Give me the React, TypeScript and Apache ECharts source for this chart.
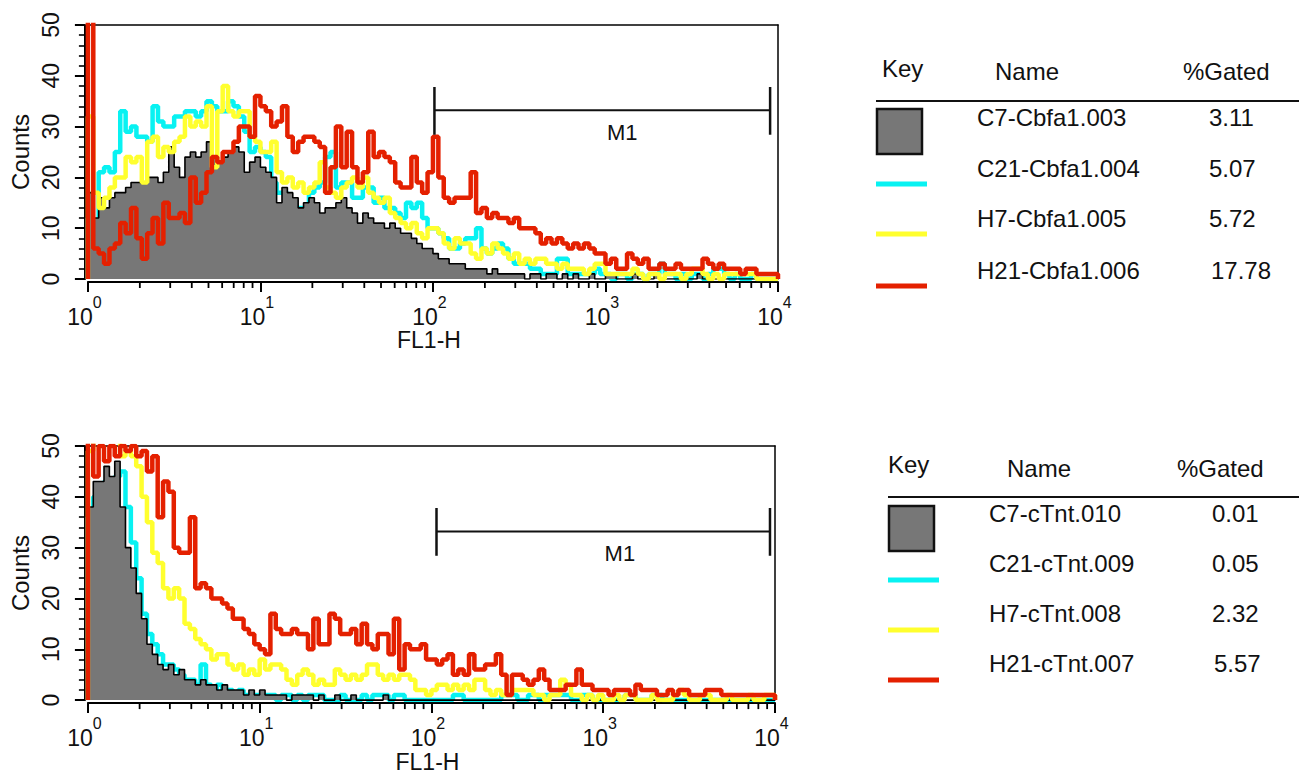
import React, { useEffect, useRef } from "react";
import * as echarts from "echarts";

const FONT = "'Liberation Sans', Arial, Helvetica, sans-serif";

// 128 log-spaced channels from 10^0 to 10^4 (each = 2 of the 256 display channels)
// ---- Cbfa1 panel ----
const cbfaC7 = [
  17, 12, 16, 14, 16, 17, 17, 18, 19, 19, 19, 20, 20, 19, 21, 26,
  22, 20, 24, 25, 24, 25, 27, 24, 23, 24, 25, 26, 25, 21, 23, 24,
  22, 21, 20, 15, 18, 17, 16, 14, 15, 16, 15, 13, 14, 14, 15, 16,
  14, 13, 11, 13, 12, 11, 11, 10, 11, 10, 9, 9, 8, 7, 6, 6,
  5, 4, 4, 3, 3, 3, 2, 2, 2, 2, 1, 2, 1, 1, 1, 1,
  1, 0, 1, 1, 0, 1, 1, 0, 1, 0, 1, 0, 0, 1, 0, 0,
  1, 1, 0, 0, 0, 1, 0, 0, 0, 1, 0, 0, 0, 0, 0, 0,
  0, 1, 0, 0, 0, 0, 0, 0, 0, 0, 0, 0, 0, 0, 0, 0,
];
const cbfaC21 = [
  12, 11, 21, 22, 21, 25, 33, 29, 30, 28, 28, 27, 34, 31, 30, 30,
  32, 32, 33, 33, 32, 33, 35, 34, 33, 33, 35, 34, 32, 29, 25, 26,
  25, 24, 19, 17, 17, 15, 14, 14, 13, 17, 18, 19, 24, 25, 18, 19,
  19, 16, 16, 18, 18, 15, 16, 14, 14, 13, 12, 15, 14, 15, 12, 10,
  10, 9, 8, 6, 6, 7, 8, 8, 10, 6, 5, 6, 7, 6, 4, 3,
  3, 3, 2, 2, 1, 1, 1, 4, 4, 1, 1, 1, 1, 1, 2, 1,
  1, 0, 1, 1, 0, 1, 1, 0, 1, 1, 3, 1, 1, 0, 1, 0,
  1, 1, 0, 1, 2, 2, 1, 0, 1, 0, 0, 1, 0, 0, 0, 0,
];
const cbfaH7 = [
  32, 17, 14, 16, 18, 20, 20, 24, 23, 24, 19, 27, 28, 24, 26, 25,
  27, 28, 32, 30, 31, 30, 34, 22, 33, 38, 33, 32, 33, 33, 28, 27,
  25, 25, 27, 21, 19, 20, 18, 19, 17, 18, 19, 23, 18, 17, 16, 18,
  19, 20, 18, 20, 17, 16, 15, 16, 13, 12, 11, 10, 11, 9, 8, 10,
  10, 9, 7, 6, 8, 7, 7, 5, 4, 6, 5, 7, 6, 5, 4, 5,
  3, 4, 3, 4, 4, 3, 3, 2, 3, 2, 2, 2, 1, 2, 3, 3,
  1, 1, 1, 1, 1, 2, 1, 0, 1, 1, 0, 1, 1, 1, 0, 1,
  2, 2, 1, 0, 1, 0, 1, 1, 1, 1, 1, 1, 0, 0, 0, 0,
];
const cbfaH21 = [
  60, 6, 5, 3, 6, 7, 11, 9, 14, 8, 4, 9, 12, 7, 15, 12,
  12, 13, 11, 20, 15, 17, 21, 24, 23, 25, 25, 27, 30, 30, 28, 36,
  34, 33, 30, 31, 34, 28, 25, 27, 28, 28, 27, 26, 17, 22, 30, 22,
  29, 22, 19, 21, 29, 24, 25, 24, 23, 19, 18, 18, 24, 19, 17, 21,
  28, 20, 16, 15, 16, 16, 16, 21, 13, 14, 12, 13, 12, 12, 11, 12,
  10, 10, 10, 9, 7, 8, 7, 8, 7, 6, 7, 6, 7, 6, 5, 5,
  3, 4, 2, 2, 5, 4, 3, 4, 2, 2, 3, 2, 2, 3, 2, 2,
  2, 2, 4, 3, 2, 3, 2, 2, 2, 1, 2, 2, 1, 1, 1, 1,
];

// ---- cTnt panel ----
const ctntC7 = [
  38, 43, 43, 46, 44, 47, 38, 30, 26, 21, 16, 11, 9, 7, 6, 7,
  5, 6, 4, 4, 3, 4, 3, 3, 2, 3, 2, 2, 2, 1, 2, 1,
  2, 1, 1, 1, 1, 0, 1, 1, 1, 1, 0, 1, 0, 0, 1, 0,
  0, 1, 0, 0, 0, 0, 0, 1, 0, 0, 0, 0, 0, 0, 0, 0,
  0, 0, 0, 0, 0, 0, 0, 0, 0, 0, 0, 0, 0, 0, 0, 0,
  0, 0, 0, 0, 0, 0, 0, 0, 0, 0, 0, 0, 0, 0, 0, 0,
  0, 0, 0, 0, 0, 0, 0, 0, 0, 0, 0, 0, 0, 0, 0, 0,
  0, 0, 0, 0, 0, 0, 0, 0, 0, 0, 0, 0, 0, 0, 0, 0,
];
const ctntC21 = [
  36, 40, 41, 43, 42, 44, 45, 38, 31, 24, 17, 13, 11, 9, 7, 7,
  6, 5, 4, 4, 3, 7, 3, 2, 3, 2, 2, 1, 2, 1, 1, 1,
  1, 1, 1, 0, 1, 1, 0, 1, 0, 1, 1, 1, 0, 0, 0, 1,
  0, 0, 0, 1, 0, 1, 1, 1, 0, 1, 1, 0, 0, 0, 0, 0,
  0, 0, 0, 0, 1, 1, 0, 0, 0, 0, 0, 0, 0, 1, 1, 1,
  0, 0, 1, 1, 0, 1, 1, 1, 1, 1, 0, 0, 1, 1, 0, 0,
  0, 0, 0, 0, 1, 1, 0, 0, 0, 1, 1, 0, 0, 0, 0, 0,
  0, 0, 0, 0, 0, 0, 0, 0, 0, 0, 0, 0, 0, 0, 0, 0,
];
const ctntH7 = [
  49, 52, 52, 52, 52, 51, 48, 49, 48, 46, 40, 35, 29, 27, 22, 20,
  22, 20, 15, 14, 12, 11, 10, 8, 9, 9, 7, 6, 7, 5, 6, 5,
  8, 6, 7, 7, 6, 4, 3, 5, 6, 5, 3, 4, 3, 3, 6, 5,
  4, 5, 4, 5, 7, 7, 5, 4, 5, 4, 5, 5, 4, 2, 2, 1,
  2, 3, 3, 2, 3, 2, 3, 2, 4, 4, 2, 1, 2, 1, 1, 2,
  2, 2, 2, 1, 1, 0, 1, 1, 4, 3, 1, 1, 0, 1, 0, 1,
  0, 0, 1, 0, 1, 1, 0, 0, 0, 1, 0, 0, 0, 1, 2, 1,
  0, 0, 1, 1, 0, 0, 0, 1, 0, 0, 0, 1, 0, 0, 1, 1,
];
const ctntH21 = [
  70, 44, 50, 47, 50, 48, 50, 49, 50, 48, 49, 45, 48, 36, 43, 41,
  30, 29, 29, 36, 22, 23, 22, 20, 20, 19, 18, 16, 16, 14, 13, 11,
  10, 9, 17, 14, 13, 13, 14, 13, 13, 10, 16, 11, 11, 17, 16, 13,
  13, 14, 11, 15, 11, 10, 13, 13, 9, 16, 6, 11, 10, 10, 11, 8,
  8, 7, 8, 9, 5, 6, 5, 9, 6, 6, 7, 7, 9, 5, 1, 5,
  5, 4, 3, 4, 6, 4, 2, 2, 2, 3, 3, 6, 3, 3, 2, 2,
  2, 1, 2, 2, 2, 1, 3, 2, 2, 2, 1, 1, 2, 1, 2, 2,
  1, 1, 1, 2, 2, 2, 1, 1, 1, 1, 1, 1, 1, 1, 1, 1,
];

const cbfaNames = ["C7-Cbfa1.003", "C21-Cbfa1.004", "H7-Cbfa1.005", "H21-Cbfa1.006"];
const cbfaGated = ["3.11", "5.07", "5.72", "17.78"];
const ctntNames = ["C7-cTnt.010", "C21-cTnt.009", "H7-cTnt.008", "H21-cTnt.007"];
const ctntGated = ["0.01", "0.05", "2.32", "5.57"];
const tableHeaders = ["Key", "Name", "%Gated"];

const xMinorTicks = [
  2, 3, 4, 5, 6, 7, 8, 9,
  20, 30, 40, 50, 60, 70, 80, 90,
  200, 300, 400, 500, 600, 700, 800, 900,
  2000, 3000, 4000, 5000, 6000, 7000, 8000, 9000,
];
const gateCbfa = [102, 9000];
const gateCtnt = [107, 9350];

const DECADES = 4;
const COLORS = ["#777777", "#08f2f2", "#ffff2e", "#e42000"];
const DRAW_ORDER = [1, 0, 2, 3]; // cyan, gray fill, yellow, red

function histData(values: number[]) {
  const pts: number[][] = [[1, 0]];
  values.forEach((v, i) => pts.push([Math.pow(10, (DECADES * i) / values.length), v]));
  pts.push([Math.pow(10, DECADES), values[values.length - 1]]);
  pts.push([Math.pow(10, DECADES), 0]);
  return pts;
}

function buildPanel(g: number, sets: number[][], gate: number[]) {
  const xi = g * 2;
  const yi = g * 2;
  const series: any[] = [];
  DRAW_ORDER.forEach((k, order) => {
    const s: any = {
      type: "line",
      xAxisIndex: xi,
      yAxisIndex: yi,
      data: histData(sets[k]),
      step: "end",
      symbol: "none",
      silent: true,
      z: 2 + order,
      lineStyle: { color: k === 0 ? "#000" : COLORS[k], width: k === 0 ? 1.6 : 4.5 },
      itemStyle: { color: COLORS[k] },
    };
    if (k === 0) s.areaStyle = { color: COLORS[0], opacity: 1, origin: "start" };
    series.push(s);
  });
  // M1 gate marker
  series.push({
    type: "custom",
    xAxisIndex: xi,
    yAxisIndex: yi,
    clip: false,
    silent: true,
    z: 11,
    data: [[gate[0], gate[1], 33.2]],
    encode: { x: [0, 1], y: 2 },
    renderItem: (params: any, api: any) => {
      const lo = api.value(0);
      const hi = api.value(1);
      const lv = api.value(2);
      const a = api.coord([lo, lv]);
      const b = api.coord([hi, lv]);
      const aT = api.coord([lo, lv + 4.6]);
      const aB = api.coord([lo, lv - 4.8]);
      const t = api.coord([1250, 28.8]);
      return {
        type: "group",
        children: [
          { type: "line", shape: { x1: a[0], y1: a[1], x2: b[0], y2: b[1] }, style: { stroke: "#111", lineWidth: 2 } },
          { type: "line", shape: { x1: a[0], y1: aT[1], x2: a[0], y2: aB[1] }, style: { stroke: "#111", lineWidth: 2.5 } },
          { type: "line", shape: { x1: b[0], y1: aT[1], x2: b[0], y2: aB[1] }, style: { stroke: "#111", lineWidth: 2.5 } },
          {
            type: "text",
            x: t[0],
            y: t[1],
            style: {
              text: "M1",
              font: `22px ${FONT}`,
              fill: "#111",
              align: "center",
              verticalAlign: "middle",
              textAlign: "center",
              textVerticalAlign: "middle",
            },
          },
        ],
      };
    },
  });
  return series;
}

function axesFor(g: number) {
  const xMain = {
    type: "log",
    logBase: 10,
    min: 1,
    max: 10000,
    splitNumber: 4,
    gridIndex: g,
    position: "bottom",
    offset: 3,
    axisLine: { show: true, onZero: false, lineStyle: { color: "#000", width: 2 } },
    axisTick: { show: true, length: 10, lineStyle: { color: "#000", width: 2 } },
    minorTick: { show: false },
    splitLine: { show: false },
    minorSplitLine: { show: false },
    axisLabel: {
      show: true,
      margin: 12,
      showMinLabel: true,
      showMaxLabel: true,
      formatter: (v: number) => `{b|10}{s|${Math.round(Math.log10(v))}}`,
      rich: {
        b: { fontSize: 23, fontFamily: FONT, color: "#111", lineHeight: 34, verticalAlign: "bottom" },
        s: { fontSize: 16, fontFamily: FONT, color: "#111", lineHeight: 34, verticalAlign: "top", padding: [0, 7, 0, 0] },
      },
    },
    name: "FL1-H",
    nameLocation: "middle",
    nameGap: g === 0 ? 44 : 42,
    nameTextStyle: { fontSize: 23, fontFamily: FONT, color: "#111", padding: [0, 8, 0, 0] },
  };
  const xTop = {
    type: "value",
    gridIndex: g,
    position: "top",
    min: 0,
    max: 1,
    axisLine: { show: true, onZero: false, lineStyle: { color: "#000", width: 1.5 } },
    axisTick: { show: false },
    axisLabel: { show: false },
    splitLine: { show: false },
  };
  const yMain = {
    type: "value",
    gridIndex: g,
    min: 0,
    max: 50,
    interval: 10,
    position: "left",
    offset: 3,
    axisLine: { show: true, onZero: false, lineStyle: { color: "#000", width: 2 } },
    axisTick: { show: true, length: 10, lineStyle: { color: "#000", width: 2 } },
    minorTick: { show: true, splitNumber: 5, length: 6, lineStyle: { color: "#000", width: 1.6 } },
    splitLine: { show: false },
    minorSplitLine: { show: false },
    axisLabel: { rotate: 90, fontSize: 23, fontFamily: FONT, color: "#111", margin: 22 },
    name: "Counts",
    nameLocation: "middle",
    nameRotate: 90,
    nameGap: 48,
    nameTextStyle: { fontSize: 24, fontFamily: FONT, color: "#111" },
  };
  const yRight = {
    type: "value",
    gridIndex: g,
    position: "right",
    min: 0,
    max: 1,
    axisLine: { show: true, onZero: false, lineStyle: { color: "#000", width: 1.5 } },
    axisTick: { show: false },
    axisLabel: { show: false },
    splitLine: { show: false },
  };
  return { x: [xMain, xTop], y: [yMain, yRight] };
}

function tableGraphics(
  names: string[],
  gated: string[],
  hdr: { key: number[]; name: number[]; gated: number[] },
  ruleY: number,
  ruleX: number,
  rowsY: number[],
  nameX: number,
  valX: number,
  swatchX: number,
  boxY: number,
  lineYs: number[]
) {
  const font = `24px ${FONT}`;
  const txt = (text: string, x: number, y: number) => ({
    type: "text",
    style: {
      text,
      x,
      y,
      font,
      fill: "#111",
      align: "left",
      verticalAlign: "middle",
      textAlign: "left",
      textVerticalAlign: "middle",
    },
  });
  const els: any[] = [
    txt(tableHeaders[0], hdr.key[0], hdr.key[1]),
    txt(tableHeaders[1], hdr.name[0], hdr.name[1]),
    txt(tableHeaders[2], hdr.gated[0], hdr.gated[1]),
    { type: "line", shape: { x1: ruleX, y1: ruleY, x2: 1299, y2: ruleY }, style: { stroke: "#111", lineWidth: 2 } },
    {
      type: "rect",
      shape: { x: swatchX + 1, y: boxY, width: 45, height: 45 },
      style: { fill: COLORS[0], stroke: "#111", lineWidth: 2.5 },
    },
  ];
  names.forEach((n, i) => {
    els.push(txt(n, nameX, rowsY[i]));
    els.push(txt(gated[i], valX + (i === 3 ? 2 : 0), rowsY[i]));
  });
  [1, 2, 3].forEach((k, j) => {
    els.push({
      type: "rect",
      shape: { x: swatchX, y: lineYs[j] - 2.5, width: 51, height: 5 },
      style: { fill: COLORS[k] },
    });
  });
  return els;
}

export default function App() {
  const ref = useRef<HTMLDivElement>(null);
  useEffect(() => {
    if (!ref.current) return;
    const chart = echarts.init(ref.current, null, { renderer: "svg" });
    const a0 = axesFor(0);
    const a1 = axesFor(1);
    const option: any = {
      animation: false,
      backgroundColor: "#fff",
      textStyle: { fontFamily: FONT },
      grid: [
        { left: 78, top: 25, width: 700, height: 254 },
        { left: 87, top: 446, width: 688, height: 256 },
      ],
      xAxis: [...a0.x, ...a1.x],
      yAxis: [...a0.y, ...a1.y],
      series: [
        ...buildPanel(0, [cbfaC7, cbfaC21, cbfaH7, cbfaH21], gateCbfa),
        ...buildPanel(1, [ctntC7, ctntC21, ctntH7, ctntH21], gateCtnt),
      ],
    };
    chart.setOption(option);

    // log minor ticks (2..9 per decade), positioned through the chart's own scale
    const ticks: any[] = [];
    [0, 1].forEach((g) => {
      xMinorTicks.forEach((v) => {
        const p = chart.convertToPixel({ xAxisIndex: g * 2, yAxisIndex: g * 2 } as any, [v, 0]) as unknown as number[];
        if (!p) return;
        const y0 = p[1] + 3;
        ticks.push({
          type: "line",
          z: 50,
          shape: { x1: p[0], y1: y0, x2: p[0], y2: y0 + 6 },
          style: { stroke: "#000", lineWidth: 1.8 },
        });
      });
    });

    chart.setOption({
      graphic: [
        ...tableGraphics(
          cbfaNames,
          cbfaGated,
          { key: [882, 68], name: [995, 71], gated: [1183, 71] },
          101,
          876,
          [117, 168, 218, 270],
          977,
          1209,
          876,
          109,
          [184, 234, 286]
        ),
        ...tableGraphics(
          ctntNames,
          ctntGated,
          { key: [888, 464], name: [1007, 468], gated: [1177, 468] },
          497,
          888,
          [513, 563, 613, 663],
          989,
          1212,
          888,
          506,
          [580, 630, 680]
        ),
        ...ticks,
      ],
    });
    return () => chart.dispose();
  }, []);
  return (
    <div
      ref={ref}
      style={{ position: "absolute", left: 0, top: 0, width: 1299, height: 774, background: "#fff" }}
    />
  );
}
